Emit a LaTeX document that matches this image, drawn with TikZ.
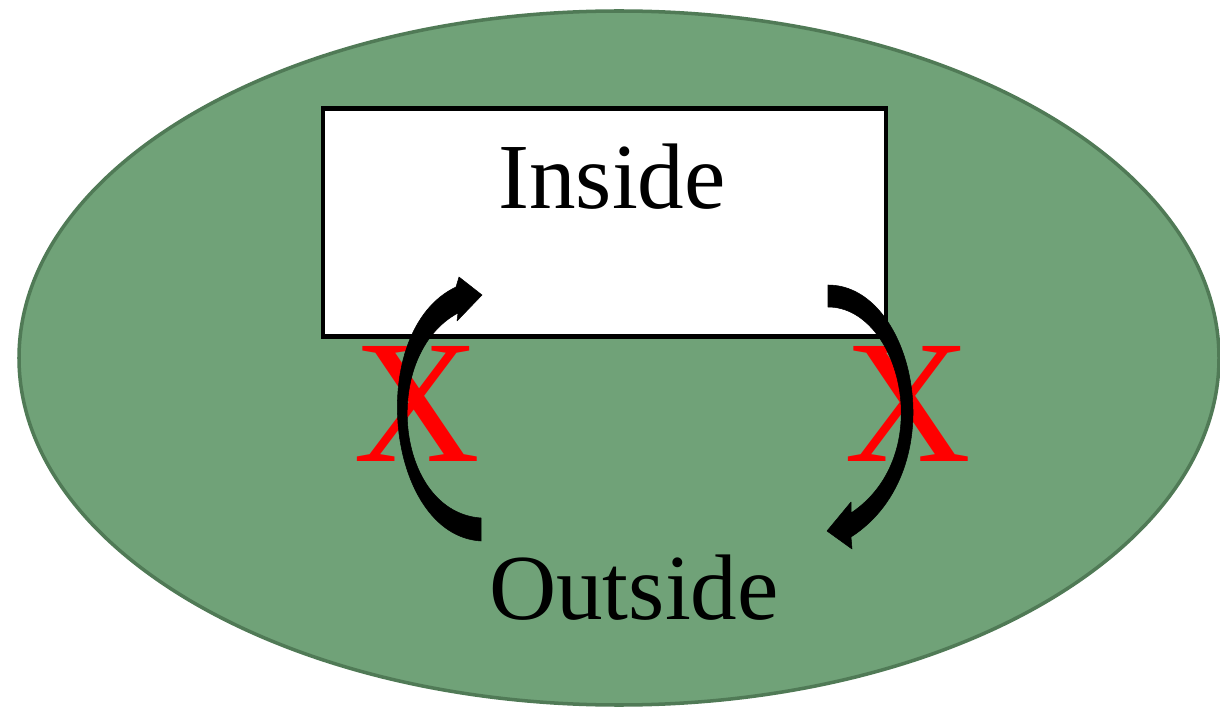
\documentclass[tikz,border=0pt]{standalone}
\usepackage{fontspec}
\setmainfont{Liberation Serif}
\usetikzlibrary{shapes.geometric}
\definecolor{ovalfill}{RGB}{112,162,120}
\definecolor{ovalline}{RGB}{80,122,86}
\definecolor{xred}{RGB}{255,0,0}
\tikzset{
  txtlabel/.style={font=\fontsize{53}{60}\selectfont, inner sep=0pt},
  cross/.style={font=\fontsize{100}{110}\selectfont, text=xred, inner sep=0pt},
  arrowbody/.style={fill=black, draw=black, line width=0.3pt, line join=round},
}
\begin{document}
\begin{tikzpicture}[x=0.02cm, y=-0.02cm]
\useasboundingbox (0,0) rectangle (1220,709);
% outer oval
\node[ellipse, fill=ovalfill, draw=ovalline, line width=2pt, inner sep=0pt,
      minimum width=1200*0.02cm, minimum height=694*0.02cm] (oval) at (619,358) {};
% inner rectangle
\node[draw=black, fill=white, line width=2.5pt, minimum width=563*0.02cm, minimum height=228*0.02cm, inner sep=0pt, anchor=north west] (inside) at (320.5,106.5) {};
\node[txtlabel] (insidelabel) at (612,177) {Inside};
\node[txtlabel] (outsidelabel) at (634,588) {Outside};
% left X
\node[cross] (xleft) at (417,404) {X};
% left arrow
\fill[arrowbody] (481,541) .. controls (385,535) and (365,330) .. (456,287)
  -- (459,277) -- (482,295) -- (457,321) -- (458,313)
  .. controls (380,355) and (395,512) .. (481,518) -- cycle;
% right X
\node[cross] (xright) at (908,404) {X};
% right arrow
\fill[arrowbody] (828,285) .. controls (915,285) and (955,470) .. (851,537)
  -- (852,549) -- (827,531) -- (851,502) -- (851,513)
  .. controls (938,455) and (900,307) .. (828,307) -- cycle;
\end{tikzpicture}
\end{document}
